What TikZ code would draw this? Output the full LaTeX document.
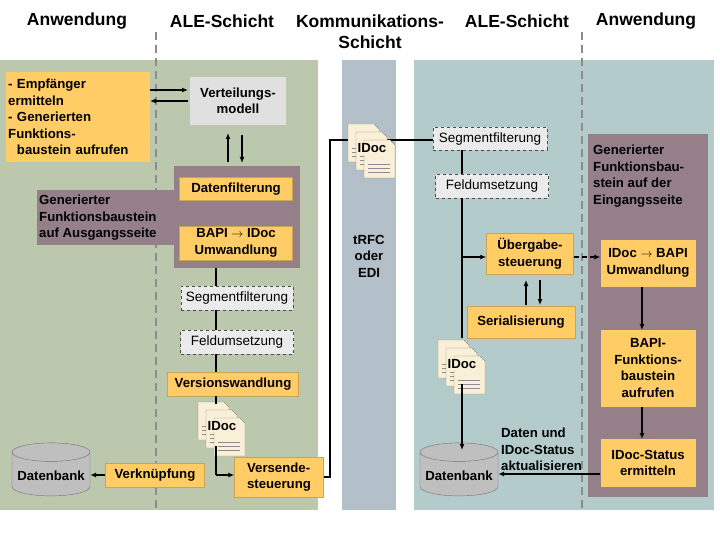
\documentclass[tikz,border=0pt]{standalone}
\usepackage{fontspec}
\setmainfont{Liberation Sans}
\usetikzlibrary{shapes.geometric,arrows.meta,calc}
\definecolor{appgreen}{HTML}{BBC8AD}
\definecolor{commgrey}{HTML}{B3C0C9}
\definecolor{aleblue}{HTML}{B3CBCB}
\definecolor{fmpurple}{HTML}{957F88}
\definecolor{stepyellow}{HTML}{FFCC66}
\definecolor{docpaper}{HTML}{FAF0D7}
\newcommand{\lbl}{\fontsize{13.2}{16.5}\selectfont\bfseries}
\newcommand{\plain}{\fontsize{13.5}{16.5}\selectfont}
\tikzstyle{stepbox}=[fill=stepyellow, draw=stepyellow!80!black, font=\lbl, align=center, inner sep=1pt]
\tikzstyle{opt}=[fill=black!8, draw=black!70, dashed, font=\plain, align=center, inner sep=1pt]
\tikzstyle{db}=[cylinder, shape border rotate=90, aspect=0.25, draw=black!55, fill=black!25, font=\lbl, minimum width=78pt, minimum height=53pt]
\tikzstyle{head}=[font=\fontsize{17.5}{21}\selectfont\bfseries, align=center]
\tikzstyle{wire}=[line width=1.6pt]
\tikzstyle{flow}=[wire, -{Latex[length=6pt,width=5pt]}]
\newcommand{\stepnode}{\node[stepbox]}
\newcommand{\idocicon}[2]{%
  \foreach \d in {0,8,16}{
    \draw[black!45, fill=docpaper] ($#1+(\d-22,\d-22)$) -- ++(26,0) -- ++(5,5) -- ++(0,33) -- ++(-31,0) -- cycle;
    \foreach \l in {24,28,32}{\draw[black!45] ($#1+(\d-18,\d-22+\l)$) -- ++(22,0);}
  }
  \node[font=\lbl, fill=docpaper, inner sep=1pt] (#2) at ($#1+(2,2)$) {IDoc};}
\begin{document}
\begin{tikzpicture}[x=1pt, y=-1pt]
\useasboundingbox (0,0) rectangle (720,540);
\fill[white] (0,0) rectangle (720,540);
\fill[appgreen] (0,60) rectangle (318,510);
\fill[commgrey] (342,60) rectangle (396,510);
\fill[aleblue] (414,60) rectangle (714,510);
\draw[black!45, line width=1.5pt, dash pattern=on 8pt off 5pt] (156,32) -- (156,510);
\draw[black!45, line width=1.5pt, dash pattern=on 8pt off 5pt] (582,32) -- (582,510);

% headers
\node[head] (h1) at (77,21) {Anwendung};
\node[head] (h2) at (222,21) {ALE-Schicht};
\node[head] (h3) at (370,32) {Kommunikations-\\Schicht};
\node[head] (h4) at (517,21) {ALE-Schicht};
\node[head] (h5) at (646,21) {Anwendung};

% outbound side
\stepnode[draw=none, align=left, anchor=north west, minimum width=144pt, minimum height=90pt, text width=140pt, inner sep=2pt] (empf) at (6,72)
  {- Empfänger\\ermitteln\\- Generierten\\Funktions-\\\ \ baustein aufrufen};
\node[fill=black!12, font=\lbl, align=center, minimum width=96pt, minimum height=48pt] (vert) at (238,101) {Verteilungs-\\modell};
\fill[fmpurple] (174,166) rectangle (300,268);
\fill[fmpurple] (37,190) rectangle (174,245);
\node[font=\lbl, align=left, anchor=north west, inner sep=1pt] (genout) at (38,194) {Generierter\\Funktionsbaustein\\auf Ausgangsseite};
\stepnode[minimum width=113pt, minimum height=23pt] (filt) at (236,189) {Datenfilterung};
\stepnode[minimum width=113pt, minimum height=34pt] (wand) at (236,243) {BAPI $\rightarrow$ IDoc\\Umwandlung};
\node[opt, minimum width=112pt, minimum height=24pt] (seg1) at (237,298) {Segmentfilterung};
\node[opt, minimum width=113pt, minimum height=24pt] (feld1) at (237,342) {Feldumsetzung};
\stepnode[minimum width=131pt, minimum height=24pt] (vers) at (233,384) {Versionswandlung};
\idocicon{(220,424)}{doc1}
\stepnode[minimum width=99pt, minimum height=24pt] (verk) at (155,475) {Verknüpfung};
\stepnode[align=left, minimum width=89pt, minimum height=40pt] (send) at (279,477) {Versende-\\steuerung};
\node[db] (db1) at (51,476) {Datenbank};

\draw[flow] (150,90) -- (188,90);
\draw[flow] (188,101) -- (150,101);
\draw[flow] (228,162) -- (228,133);
\draw[flow] (242,135) -- (242,163);
\draw[wire] (216,268) -- (216,286);
\draw[wire] (216,310) -- (216,330);
\draw[wire] (216,354) -- (216,372);
\draw[wire] (216,396) -- (216,404);
\draw[wire] (216,446) -- (216,475);
\draw[flow] (216,475) -- (send.west |- 0,475);
\draw[flow] (verk.west) -- (db1.east |- verk.west);

% inbound side
\node[opt, minimum width=114pt, minimum height=23pt] (seg2) at (490,139) {Segmentfilterung};
\node[opt, minimum width=113pt, minimum height=24pt] (feld2) at (492,186) {Feldumsetzung};

% communication layer
\draw[wire] (send.east) -- (330,477) -- (330,140) -- (seg2.west |- 0,140);
\idocicon{(370,146)}{doc2}
\node[font=\lbl, align=center] (trfc) at (369,256) {tRFC\\oder\\EDI};

\stepnode[minimum width=87pt, minimum height=41pt] (ueber) at (530,254) {Übergabe-\\steuerung};
\stepnode[minimum width=108pt, minimum height=32pt] (seri) at (521,322) {Serialisierung};
\idocicon{(460,362)}{doc3}
\node[db] (db2) at (459,476) {Datenbank};
\draw[wire] (462,150.5) -- (462,174);
\draw[wire] (462,198) -- (462,338);
\draw[flow] (462,384) -- (462,450);
\draw[flow] (462,257) -- (ueber.west |- 0,257);
\draw[flow] (526,305) -- (526,280);
\draw[flow] (540,280) -- (540,305);

\fill[fmpurple] (588,134) rectangle (708,497);
\node[font=\lbl, align=left, anchor=north west, inner sep=1pt] (genin) at (592,144) {Generierter\\Funktionsbau-\\stein auf der\\Eingangsseite};
\stepnode[draw=none, minimum width=95pt, minimum height=47pt] (wand2) at (648,263) {IDoc $\rightarrow$ BAPI\\Umwandlung};
\stepnode[draw=none, minimum width=95pt, minimum height=77pt] (bapi) at (648,368) {BAPI-\\Funktions-\\baustein\\aufrufen};
\stepnode[draw=none, minimum width=95pt, minimum height=48pt] (stat) at (648,463) {IDoc-Status\\ermitteln};
\draw[flow, dash pattern=on 5pt off 3pt] (ueber.east |- 0,257) -- (wand2.west |- 0,257);
\draw[flow] (642,287) -- (642,330);
\draw[flow] (642,407) -- (642,439);
\draw[flow] (stat.west |- 0,474) -- (db2.east |- 0,474);
\node[font=\lbl, align=left, anchor=north west, inner sep=0pt] (upd) at (501,428) {Daten und\\IDoc-Status\\aktualisieren};
\end{tikzpicture}
\end{document}
